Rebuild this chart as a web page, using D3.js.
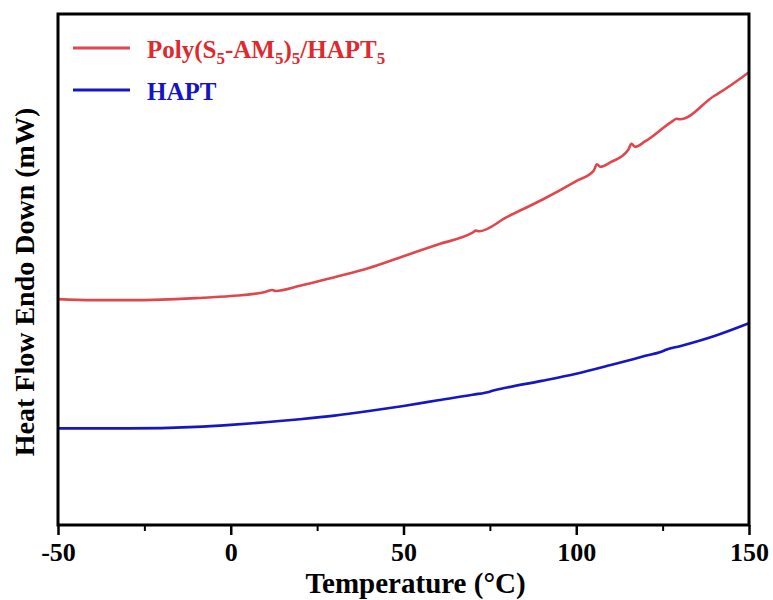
<!DOCTYPE html>
<html>
<head>
<meta charset="utf-8">
<script src="https://cdn.jsdelivr.net/npm/d3@7"></script>
<style>
  body { margin: 0; background: #fff; }
  svg text { font-family: "Liberation Serif", "Times New Roman", serif; font-weight: bold; }
</style>
</head>
<body>
<svg id="chart" width="773" height="600"></svg>
<script>
// temperature (°C) and heat flow (arbitrary mW offsets)
var polyTemp = [-50, -40, -30, -20, -10, 0, 10, 12, 13, 20, 30, 40, 50, 60, 70, 71, 72, 80, 90, 100, 105, 106, 107, 110, 115, 116, 117, 120, 128, 129, 130, 140, 141, 150];
var polyFlow = [4.42, 4.40, 4.40, 4.41, 4.44, 4.48, 4.56, 4.60, 4.58, 4.68, 4.85, 5.03, 5.26, 5.49, 5.72, 5.76, 5.75, 6.03, 6.36, 6.73, 6.93, 7.06, 7.01, 7.10, 7.34, 7.46, 7.40, 7.51, 7.91, 7.95, 7.94, 8.40, 8.44, 8.86];

var haptTemp = [-50, -30, -10, 0, 10, 20, 30, 40, 50, 60, 70, 75, 76, 80, 90, 100, 110, 120, 125, 126, 130, 140, 150];
var haptFlow = [1.89, 1.89, 1.92, 1.96, 2.01, 2.07, 2.14, 2.23, 2.33, 2.44, 2.55, 2.61, 2.63, 2.69, 2.82, 2.96, 3.13, 3.31, 3.40, 3.43, 3.50, 3.70, 3.95];

var majorTicks = [-50, 0, 50, 100, 150];
var minorTicks = [-25, 25, 75, 125];

var svg = d3.select("#chart");
// plot box edges (don't call it "top", that's window.top)
var plotL = 58, plotR = 749, plotT = 14, plotB = 525;

var x = d3.scaleLinear().domain([-50, 150]).range([plotL, plotR]);
var y = d3.scaleLinear().domain([0, 10]).range([plotB, plotT]);

// x axis with major + minor ticks
var xAxis = svg.append("g")
    .attr("transform", "translate(0," + plotB + ")")
    .call(d3.axisBottom(x).tickValues(majorTicks).tickSize(10).tickPadding(4)
        .tickFormat(function (d) { return String(d); }));
xAxis.select(".domain").remove();
xAxis.selectAll("line").attr("stroke", "#000").attr("stroke-width", 2.5);
xAxis.selectAll("text").attr("fill", "#000").style("font-size", "26px").attr("dy", "0.85em");

var xMinor = svg.append("g")
    .attr("transform", "translate(0," + plotB + ")")
    .call(d3.axisBottom(x).tickValues(minorTicks).tickSize(6).tickFormat(""));
xMinor.select(".domain").remove();
xMinor.selectAll("line").attr("stroke", "#000").attr("stroke-width", 2);

// curves
var line = d3.line()
    .x(function (d) { return x(d[0]); })
    .y(function (d) { return y(d[1]); })
    .curve(d3.curveMonotoneX);

var series = [
    { name: "poly", temp: polyTemp, flow: polyFlow, color: "#e0474c" },
    { name: "hapt", temp: haptTemp, flow: haptFlow, color: "#1616c4" }
];

series.forEach(function (s) {
    var pts = s.temp.map(function (t, i) { return [t, s.flow[i]]; });
    svg.append("path")
        .datum(pts)
        .attr("d", line)
        .attr("fill", "none")
        .attr("stroke", s.color)
        .attr("stroke-width", 2.6)
        .attr("stroke-linejoin", "round");
});

// frame
svg.append("rect")
    .attr("x", plotL).attr("y", plotT)
    .attr("width", plotR - plotL).attr("height", plotB - plotT)
    .attr("fill", "none")
    .attr("stroke", "#000")
    .attr("stroke-width", 3);

// axis titles
svg.append("text")
    .attr("x", (plotL + plotR) / 2 + 12)
    .attr("y", 593)
    .attr("text-anchor", "middle")
    .style("font-size", "29px")
    .text("Temperature (\u00B0C)");

svg.append("text")
    .attr("transform", "translate(34,282) rotate(-90)")
    .attr("text-anchor", "middle")
    .style("font-size", "28px")
    .text("Heat Flow Endo Down (mW)");

// legend
var legend = svg.append("g");
legend.append("line")
    .attr("x1", 73).attr("x2", 130).attr("y1", 48).attr("y2", 48)
    .attr("stroke", "#e0474c").attr("stroke-width", 3);
legend.append("line")
    .attr("x1", 73).attr("x2", 130).attr("y1", 90).attr("y2", 90)
    .attr("stroke", "#1616c4").attr("stroke-width", 3);

var t1 = legend.append("text")
    .attr("x", 147).attr("y", 58)
    .attr("fill", "#dc2a2e")
    .style("font-size", "25px");
var parts = [["Poly(S", 0], ["5", 1], ["-AM", 0], ["5", 1], [")", 0], ["5", 1], ["/HAPT", 0], ["5", 1]];
var shifted = false;
parts.forEach(function (p) {
    var ts = t1.append("tspan").text(p[0]);
    if (p[1]) {
        ts.style("font-size", "17px").attr("dy", shifted ? 0 : 6);
        shifted = true;
    } else {
        ts.attr("dy", shifted ? -6 : 0);
        shifted = false;
    }
});

legend.append("text")
    .attr("x", 147).attr("y", 100)
    .attr("fill", "#1414c0")
    .style("font-size", "25px")
    .text("HAPT");
</script>
</body>
</html>
